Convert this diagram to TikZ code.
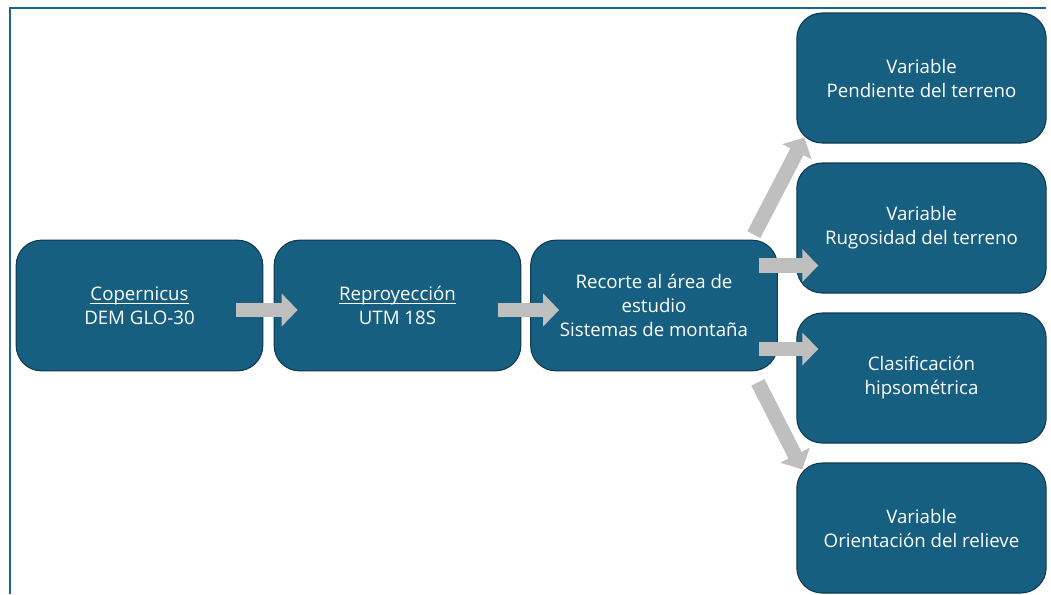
\documentclass[tikz,border=0pt]{standalone}
\usepackage{fontspec}
\setmainfont{Open Sans}
\usetikzlibrary{%
  arrows.meta,%
  positioning,%
  calc%
}
\definecolor{cajaazul}{HTML}{175F80}
\definecolor{bordeazul}{HTML}{0F3A50}
\definecolor{marco}{HTML}{1B6689}
\definecolor{flechagris}{HTML}{BFBFBF}
\newcommand\subrayar[1]{\setbox0\hbox{#1}\rlap{\rule[-2.5pt]{\wd0}{0.7pt}}\box0}

\begin{document}
\begin{tikzpicture}
[x=0.75pt, y=-0.75pt, font=\fontsize{14}{18}\selectfont,
procbox/.style={rectangle, rounded corners=19pt, draw=bordeazul, line width=0.8pt, fill=cajaazul, text=white, align=center, inner sep=0pt, minimum width=185pt, minimum height=98pt},
varbox/.style={procbox, minimum width=187pt, minimum height=97.5pt},
bloque/.style={draw=flechagris, line width=11pt, -{Triangle[length=12pt,width=24pt]}}
]

\useasboundingbox (0,0) rectangle (1051,594);

\def \filay {305.5}
\def \varx {921.5}

% marco
\draw[marco, line width=1.6pt] (10,594) -- (10,8) -- (1046,8);

% cadena principal
\node[procbox] (cop) at (139.5,\filay) {\subrayar{Copernicus}\\DEM GLO-30};
\node[procbox] (reproy) at (397.5,\filay) {\subrayar{Reproyección}\\UTM 18S};
\node[procbox] (recorte) at (654,\filay) {Recorte al área de\\estudio\\Sistemas de montaña};

% variables
\node[varbox] (pend) at (\varx,78) {Variable\\Pendiente del terreno};
\node[varbox] (rugos) at (\varx,228) {Variable\\Rugosidad del terreno};
\node[varbox] (hipso) at (\varx,378) {Clasificación\\hipsométrica};
\node[varbox] (orient) at (\varx,528) {Variable\\Orientación del relieve};

% flechas
\draw[bloque] ($(cop.east)+(-27,4.5)$) -- ($(reproy.west)+(24,4.5)$);
\draw[bloque] ($(reproy.east)+(-23,4.5)$) -- ($(recorte.west)+(29,4.5)$);

\draw[bloque] ($(recorte.north east)+(-24,-5)$) -- ($(pend.south west)+(8,-6)$);
\draw[bloque] ($(recorte.east)+(-19,-40)$) -- ($(rugos.west)+(22,37.5)$);
\draw[bloque] ($(recorte.east)+(-19,43.5)$) -- ($(hipso.west)+(22,-29)$);
\draw[bloque] ($(recorte.south east)+(-20,11)$) -- ($(orient.north west)+(6,7)$);
\end{tikzpicture}
\end{document}
